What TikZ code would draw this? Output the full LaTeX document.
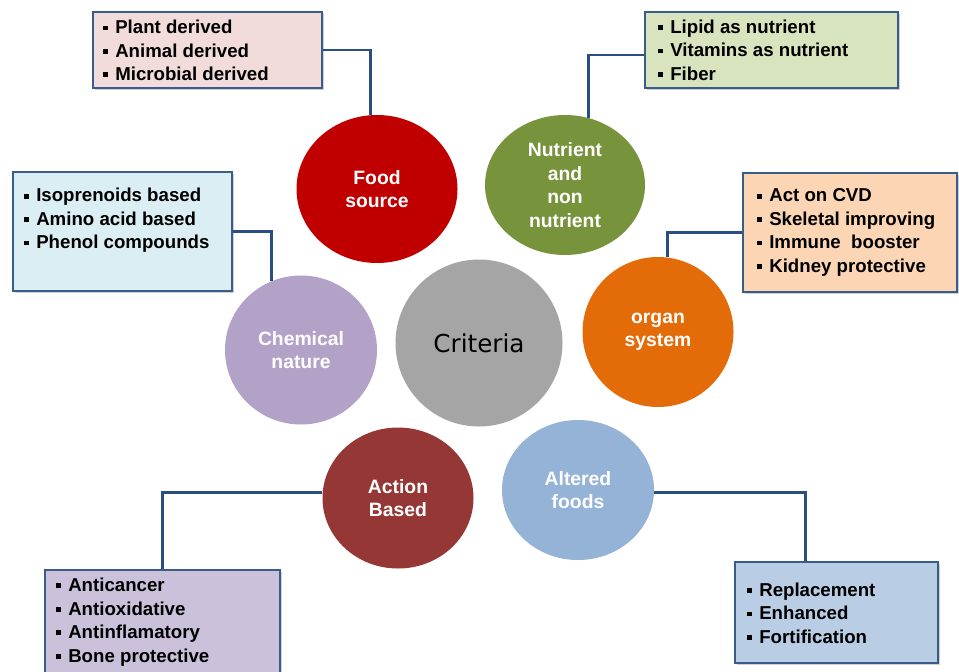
\documentclass[tikz,border=0pt]{standalone}
\usepackage{fontspec}
\setmainfont{Liberation Sans}
\newfontfamily\critfont{DejaVu Sans}
\usetikzlibrary{shapes.geometric,fit,calc,shadows}
\definecolor{critc}{RGB}{165,165,165}
\definecolor{foodc}{RGB}{192,0,0}
\definecolor{nutric}{RGB}{119,147,60}
\definecolor{organc}{RGB}{227,108,9}
\definecolor{chemc}{RGB}{179,162,199}
\definecolor{actc}{RGB}{149,55,53}
\definecolor{altc}{RGB}{149,179,215}
\definecolor{foodbox}{RGB}{242,220,219}
\definecolor{nutribox}{RGB}{215,228,189}
\definecolor{chembox}{RGB}{219,238,244}
\definecolor{organbox}{RGB}{252,213,181}
\definecolor{actbox}{RGB}{204,193,218}
\definecolor{altbox}{RGB}{185,205,229}
\definecolor{boxline}{RGB}{56,93,138}
\definecolor{connc}{RGB}{40,78,132}
\newcommand{\bx}{\makebox[9pt][l]{\raisebox{0.18em}{\rule{3.6pt}{3.6pt}}}}
\begin{document}
\begin{tikzpicture}[x=0.75pt,y=-0.75pt,
  circ/.style={ellipse, inner sep=0pt, align=center, text=white,
    font=\bfseries\fontsize{14.5}{17.6}\selectfont},
  infobox/.style={rectangle, draw=boxline, line width=1.8pt, inner sep=0pt,
    drop shadow={shadow xshift=1.2pt, shadow yshift=-1.2pt, opacity=0.3, fill=black!60}},
  listtext/.style={anchor=west, inner sep=0pt, align=left, text=black,
    font=\bfseries\fontsize{14}{17.6}\selectfont},
  conn/.style={draw=connc, line width=2.2pt}]
\useasboundingbox (0,0) rectangle (959,671);
\fill[white] (0,0) rectangle (959,671);

% boxes
\node[infobox, fill=foodbox, fit={(93,12) (322,88)}] (fb) {};
\node[infobox, fill=nutribox, fit={(645,12) (898,88)}] (nb) {};
\node[infobox, fill=chembox, fit={(13,172) (232,291)}] (cb) {};
\node[infobox, fill=organbox, fit={(743,173) (957,292)}] (ob) {};
\node[infobox, fill=actbox, fit={(45,570) (280,673)}] (ab) {};
\node[infobox, fill=altbox, fit={(735,562) (938,663)}] (alb) {};

% box texts
\node[listtext] (ft) at (103,50.5) {\bx Plant derived\\\bx Animal derived\\\bx Microbial derived};
\node[listtext] (nt) at (658,50) {\bx Lipid as nutrient\\\bx Vitamins as nutrient\\\bx Fiber};
\node[listtext] (ct) at (24,220.5) {\bx Isoprenoids based\\\bx Amino acid based\\\bx Phenol compounds};
\node[listtext] (ot) at (757,232.5) {\bx Act on CVD\\\bx Skeletal improving\\\bx Immune\ \ booster\\\bx Kidney protective};
\node[listtext] (at) at (56,622) {\bx Anticancer\\\bx Antioxidative\\\bx Antinflamatory\\\bx Bone protective};
\node[listtext] (lt) at (747,613) {\bx Replacement\\\bx Enhanced\\\bx Fortification};

% circles
\node[circ, fill=critc, minimum width=125.25pt, minimum height=125.25pt, text=black,
  font=\critfont\fontsize{18.5}{21}\selectfont] (crit) at (479,343) {Criteria};
\node[circ, fill=foodc, minimum width=120.75pt, minimum height=111pt] (food) at (377,189) {Food\\source};
\node[circ, fill=nutric, minimum width=120pt, minimum height=105pt] (nutri) at (565,185) {Nutrient\\and\\non\\nutrient};
\node[circ, fill=chemc, minimum width=114pt, minimum height=111.75pt] (chem) at (301,350) {Chemical\\nature};
\node[circ, fill=organc, minimum width=113.25pt, minimum height=112.5pt] (organ) at (658,332) {organ\\system};
\node[circ, fill=actc, minimum width=113.25pt, minimum height=105.75pt] (action) at (398,498) {Action\\Based};
\node[circ, fill=altc, minimum width=114pt, minimum height=105pt] (alt) at (578,490) {Altered\\foods};

% connectors
\draw[conn] (fb.east) -| (food.95);
\draw[conn] ($(nb.west)+(0,5)$) -| (nutri.71);
\draw[conn] (cb.east) -| (chem.113);
\draw[conn] (ob.west) -| (organ.83);
\draw[conn] (action.176) -| (ab.north);
\coordinate (altdrop) at ($(alb.north west)+(72,0)$);
\draw[conn] (alt.-2) -| (altdrop);
\end{tikzpicture}
\end{document}
